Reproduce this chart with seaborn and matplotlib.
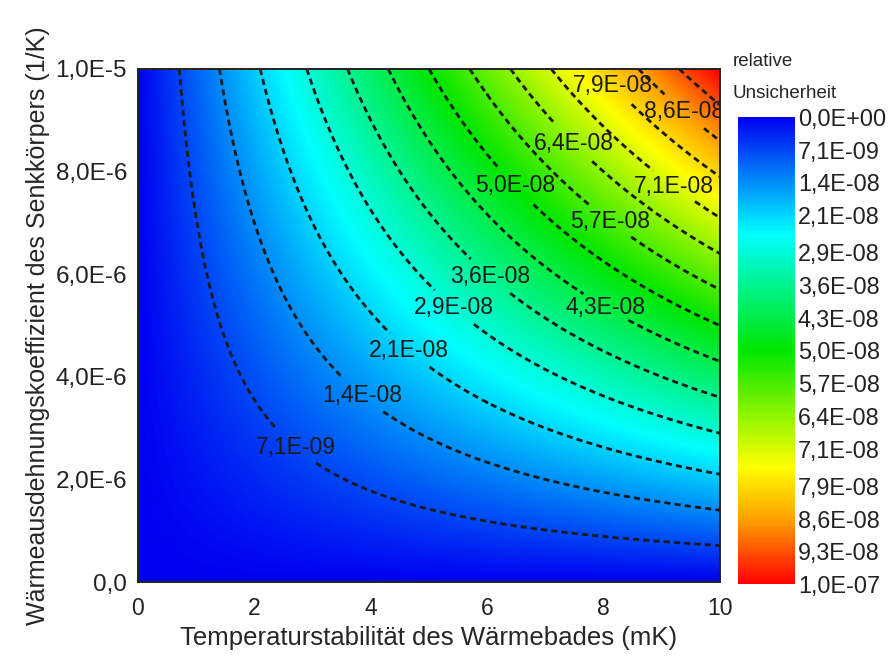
import numpy as np
import matplotlib
matplotlib.use("Agg")
import matplotlib.pyplot as plt
from matplotlib.colors import LinearSegmentedColormap, Normalize
from matplotlib.ticker import FuncFormatter, MultipleLocator
import seaborn as sns

# --- data -------------------------------------------------------------
# temperature stability of the bath (mK) and thermal expansion coefficient (1/K)
temp_range_mk = [0.0, 10.0]
alpha_range = [0.0, 1.0e-5]
# relative uncertainty levels (contour lines and colour bar ticks)
levels = [0.0, 7.1e-9, 1.4e-8, 2.1e-8, 2.9e-8, 3.6e-8, 4.3e-8, 5.0e-8,
          5.7e-8, 6.4e-8, 7.1e-8, 7.9e-8, 8.6e-8, 9.3e-8, 1.0e-7]
x_ticks = [0, 2, 4, 6, 8, 10]
y_ticks = [0.0, 2.0e-6, 4.0e-6, 6.0e-6, 8.0e-6, 1.0e-5]

# grid: relative uncertainty = temperature stability (K) * expansion coefficient
temp_mk = np.linspace(temp_range_mk[0], temp_range_mk[1], 401)
alpha = np.linspace(alpha_range[0], alpha_range[1], 401)
T, A = np.meshgrid(temp_mk, alpha)
U = (T * 1e-3) * A

# --- style ------------------------------------------------------------
sns.set_theme(style="white")
plt.rcParams["font.family"] = ["Liberation Sans", "DejaVu Sans"]
plt.rcParams["axes.linewidth"] = 1.4
plt.rcParams["axes.edgecolor"] = "#222222"

cmap = LinearSegmentedColormap.from_list(
    "rainbow_unc",
    [(0.0, "#0000f2"), (0.25, "#00ffff"), (0.5, "#00e600"),
     (0.75, "#ffff00"), (0.87, "#ff9a00"), (1.0, "#ff0000")])
norm = Normalize(vmin=levels[0], vmax=levels[-1])

fig = plt.figure(figsize=(8.91, 6.69), dpi=100)
ax = fig.add_axes([138 / 891, 1 - 582 / 669, (720 - 138) / 891, (582 - 69) / 669])
cax = fig.add_axes([738 / 891, 1 - 584 / 669, 57 / 891, (584 - 117) / 669])

im = ax.imshow(U, origin="lower", aspect="auto", cmap=cmap, norm=norm,
               extent=[temp_range_mk[0], temp_range_mk[1], alpha_range[0], alpha_range[1]],
               interpolation="bilinear")

cs = ax.contour(T, A, U, levels=levels[1:-1], colors="#1a1a1a",
                linewidths=2.0, linestyles=[(0, (2.2, 1.5))])


def sci_comma(v):
    return f"{v:.1E}".replace(".", ",")


label_pos = [(2.71, 2.63e-6), (3.88, 3.66e-6), (4.67, 4.52e-6), (5.36, 5.26e-6),
             (6.0, 5.89e-6), (8.06, 5.4e-6), (6.44, 7.68e-6), (8.11, 7.02e-6),
             (7.49, 8.56e-6), (9.23, 7.75e-6), (8.09, 9.59e-6), (9.36, 9.14e-6)]
texts = ax.clabel(cs, inline=True, inline_spacing=-14, fontsize=16.5,
                  fmt=sci_comma, manual=label_pos, colors="#1a1a1a")
for t in texts:
    t.set_rotation(0)
    t.set_clip_on(True)
    t.set_clip_path(ax.patch)

ax.set_xlim(*temp_range_mk)
ax.set_ylim(*alpha_range)
ax.set_xticks(x_ticks)
ax.set_yticks(y_ticks)
ax.xaxis.set_minor_locator(MultipleLocator(1))
ax.yaxis.set_minor_locator(MultipleLocator(1e-6))


def y_fmt(v, pos):
    if v == 0:
        return "0,0"
    m, e = f"{v:.1E}".split("E")
    return f"{m.replace('.', ',')}E{int(e)}"


ax.yaxis.set_major_formatter(FuncFormatter(y_fmt))
ax.xaxis.set_major_formatter(FuncFormatter(lambda v, p: f"{v:g}"))
ax.tick_params(which="both", direction="in", top=False, right=False,
               colors="#222222", width=1.2)
ax.tick_params(axis="x", which="major", length=7, pad=11, labelsize=16.5)
ax.tick_params(axis="y", which="major", length=6, pad=8, labelsize=17.5)
ax.tick_params(which="minor", length=4)
ax.set_xlabel("Temperaturstabilität des Wärmebades (mK)", fontsize=18.5, labelpad=4)
ax.set_ylabel("Wärmeausdehnungskoeffizient des Senkkörpers (1/K)", fontsize=18, labelpad=4)

cb = fig.colorbar(im, cax=cax, ticks=levels)
cb.outline.set_visible(False)
cax.invert_yaxis()
cax.yaxis.set_major_formatter(FuncFormatter(lambda v, p: sci_comma(v)))
cax.tick_params(length=0, labelsize=16.8, pad=2, colors="#222222")

fig.text(733 / 891, 1 - 62 / 669, "relative", fontsize=13.5, va="center", ha="left")
fig.text(733 / 891, 1 - 94 / 669, "Unsicherheit", fontsize=13.5, va="center", ha="left")

fig.savefig("out.png", dpi=100)
